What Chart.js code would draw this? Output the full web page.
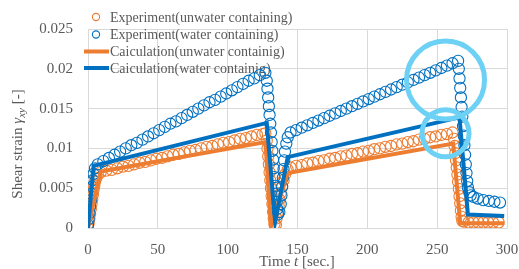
<!DOCTYPE html>
<html lang="en">
<head>
    <meta charset="UTF-8">
    <title>Shear strain - time</title>
    <script src="https://cdn.jsdelivr.net/npm/chart.js"></script>
    <style>
        body { margin: 0; background: #fff; }
        canvas { display: block; }
    </style>
</head>
<body>

    <canvas id="strainChart" width="519" height="269"></canvas>

    <script>
        // Experiment (unwater containing) - time [sec.] / shear strain [-]
        const expUnwaterT = [
            0, 0.5, 1, 1.5, 2, 2.5, 3, 3.5, 4, 4.5, 5, 6, 7,
            9, 13, 17, 21, 25, 29, 33, 37, 41, 45, 49, 53, 57, 61, 65, 69, 73, 77, 81, 85, 89, 93, 97, 101, 105, 109, 113, 117, 121, 125, 127,
            128, 128.5, 129, 129.5, 130, 130.5, 131, 131.5, 132, 132.5, 133, 133.5,
            134.5, 135, 136, 136.5, 137, 138, 139, 140, 141, 143,
            145, 149, 153, 157, 161, 165, 169, 173, 177, 181, 185, 189, 193, 197, 201, 205, 209, 213, 217, 221, 225, 229, 233, 237, 241, 245, 249, 253, 257, 261,
            262, 262.5, 263, 263.5, 264, 264.5, 265, 265.5, 266, 266.5, 267, 267.5, 268,
            269, 272.5, 276, 279.5, 283, 286.5, 290, 294
        ];
        const expUnwaterY = [
            0, 0.0006, 0.0012, 0.0018, 0.0024, 0.0030, 0.0036, 0.0042, 0.0048, 0.0053, 0.0058, 0.0063, 0.0067,
            0.0070, 0.0072, 0.0073, 0.0075, 0.0077, 0.0078, 0.0080, 0.0082, 0.0083, 0.0085, 0.0087, 0.0088, 0.0090, 0.0092, 0.0093, 0.0095, 0.0097, 0.0098, 0.0100, 0.0102, 0.0103, 0.0105, 0.0107, 0.0108, 0.0110, 0.0112, 0.0113, 0.0115, 0.0117, 0.0118, 0.0119,
            0.0110, 0.0100, 0.0090, 0.0080, 0.0070, 0.0060, 0.0050, 0.0040, 0.0030, 0.0020, 0.0012, 0.0005,
            0.0004, 0.0012, 0.0020, 0.0028, 0.0036, 0.0044, 0.0052, 0.0060, 0.0067, 0.0073,
            0.0076, 0.0078, 0.0079, 0.0081, 0.0082, 0.0084, 0.0085, 0.0087, 0.0088, 0.0090, 0.0091, 0.0093, 0.0094, 0.0096, 0.0097, 0.0099, 0.0100, 0.0102, 0.0103, 0.0105, 0.0106, 0.0108, 0.0109, 0.0111, 0.0112, 0.0114, 0.0115, 0.0117, 0.0118, 0.0120,
            0.0112, 0.0103, 0.0094, 0.0085, 0.0076, 0.0067, 0.0058, 0.0049, 0.0040, 0.0031, 0.0022, 0.0014, 0.0009,
            0.0008, 0.0007, 0.0007, 0.0007, 0.0007, 0.0007, 0.0007, 0.0007
        ];

        // Experiment (water containing)
        const expWaterT = [
            0, 0.5, 1, 1.5, 2, 2.5, 3, 3.5, 4, 5,
            7, 11, 15, 19, 23, 27, 31, 35, 39, 43, 47, 51, 55, 59, 63, 67, 71, 75, 79, 83, 87, 91, 95, 99, 103, 107, 111, 115, 119, 123, 127,
            128, 128.5, 129, 129.5, 130, 130.5, 131, 131.5, 132, 132.5, 133, 133.5, 134, 134.5, 135, 135.5, 136,
            137, 138, 138.5, 139, 139.5, 140, 140.5, 141, 142, 143,
            145, 149, 153, 157, 161, 165, 169, 173, 177, 181, 185, 189, 193, 197, 201, 205, 209, 213, 217, 221, 225, 229, 233, 237, 241, 245, 249, 253, 257, 261, 265,
            265.5, 266, 266.5, 267, 267.5, 268, 268.5, 269, 269.5, 270, 270.5, 271,
            271.5, 272, 273, 274, 276, 279, 283, 287, 291, 295
        ];
        const expWaterY = [
            0.0004, 0.0011, 0.0019, 0.0027, 0.0035, 0.0043, 0.0052, 0.0060, 0.0068, 0.0075,
            0.0080, 0.0084, 0.0088, 0.0092, 0.0096, 0.0100, 0.0104, 0.0107, 0.0111, 0.0115, 0.0119, 0.0123, 0.0127, 0.0131, 0.0134, 0.0138, 0.0142, 0.0146, 0.0150, 0.0154, 0.0158, 0.0161, 0.0165, 0.0169, 0.0173, 0.0177, 0.0181, 0.0185, 0.0188, 0.0192, 0.0195,
            0.0185, 0.0175, 0.0164, 0.0153, 0.0142, 0.0131, 0.0120, 0.0108, 0.0097, 0.0086, 0.0075, 0.0064, 0.0053, 0.0043, 0.0033, 0.0024, 0.0017,
            0.0020, 0.0030, 0.0041, 0.0052, 0.0063, 0.0074, 0.0085, 0.0096, 0.0106, 0.0114,
            0.0120, 0.0123, 0.0126, 0.0129, 0.0132, 0.0135, 0.0138, 0.0141, 0.0144, 0.0147, 0.0150, 0.0153, 0.0156, 0.0159, 0.0162, 0.0165, 0.0168, 0.0171, 0.0174, 0.0177, 0.0180, 0.0183, 0.0186, 0.0189, 0.0192, 0.0195, 0.0198, 0.0201, 0.0204, 0.0207, 0.0210,
            0.0200, 0.0188, 0.0176, 0.0164, 0.0152, 0.0140, 0.0128, 0.0116, 0.0104, 0.0092, 0.0080, 0.0069,
            0.0059, 0.0051, 0.0045, 0.0041, 0.0039, 0.0037, 0.0035, 0.0034, 0.0033, 0.0032
        ];

        // Calculation lines
        const calcUnwaterT = [0, 9, 127, 131, 143, 261.5, 266.5, 298];
        const calcUnwaterY = [0, 0.0071, 0.0108, 0.0002, 0.0069, 0.0106, 0.0006, 0.0006];
        const calcWaterT = [0, 4, 128, 134, 143, 266, 272, 298];
        const calcWaterY = [0, 0.0078, 0.0132, 0.0008, 0.0089, 0.0139, 0.0017, 0.0015];

        // highlight circles drawn on the figure (centres, data units)
        const highlightT = [256, 256];
        const highlightY = [0.0186, 0.0119];

        const legendLabels = [
            'Experiment(unwater containing)',
            'Experiment(water containing)',
            'Caiculation(unwater containig)',
            'Caiculation(water containig)'
        ];

        const xTicks = [0, 50, 100, 150, 200, 250, 300];
        const xTickLabels = ['0', '50', '100', '150', '200', '250', '300'];
        const yTicks = [0, 0.005, 0.01, 0.015, 0.02, 0.025];
        const yTickLabels = ['0', '0.005', '0.01', '0.015', '0.02', '0.025'];

        const ORANGE = '#ed7d31';
        const BLUE = '#0070c0';
        const CYAN = '#6cd1f5';
        const GRID = '#d9d9d9';
        const TEXT = '#595959';
        const SERIF = "'Liberation Serif', 'Times New Roman', serif";
        const HIGHLIGHT_R = [39, 23.5];

        function pairs(t, y) {
            return t.map((v, i) => ({ x: v, y: y[i] }));
        }

        // draws a row of text pieces (normal / italic / subscript) centred on x
        function drawRuns(ctx, runs, x, y) {
            let total = 0;
            runs.forEach(r => {
                ctx.font = (r.italic ? 'italic ' : '') + r.size + 'px ' + SERIF;
                r.w = ctx.measureText(r.text).width;
                total += r.w;
            });
            let cx = x - total / 2;
            runs.forEach(r => {
                ctx.font = (r.italic ? 'italic ' : '') + r.size + 'px ' + SERIF;
                ctx.fillText(r.text, cx, y + (r.dy || 0));
                cx += r.w;
            });
        }

        const decorPlugin = {
            id: 'decor',
            beforeDatasetsDraw(chart) {
                // legend, sits partly over the plot area
                const ctx = chart.ctx;
                const rows = [17, 34.5, 51.5, 68];
                const colors = [ORANGE, BLUE, ORANGE, BLUE];
                ctx.save();
                ctx.textBaseline = 'middle';
                ctx.textAlign = 'left';
                ctx.font = '14px ' + SERIF;
                rows.forEach((y, i) => {
                    ctx.strokeStyle = colors[i];
                    if (i < 2) {
                        ctx.lineWidth = 1.1;
                        ctx.beginPath();
                        ctx.arc(96, y, 3.6, 0, Math.PI * 2);
                        ctx.stroke();
                    } else {
                        ctx.lineWidth = 4;
                        ctx.beginPath();
                        ctx.moveTo(84, y);
                        ctx.lineTo(109, y);
                        ctx.stroke();
                    }
                    ctx.fillStyle = TEXT;
                    ctx.fillText(legendLabels[i], 110, y + 1);
                });
                ctx.restore();
            },
            afterDatasetsDraw(chart) {
                // the two highlight rings, placed through the chart scales
                const ctx = chart.ctx;
                const xs = chart.scales.x, ys = chart.scales.y;
                ctx.save();
                ctx.strokeStyle = CYAN;
                ctx.lineWidth = 5;
                highlightT.forEach((t, i) => {
                    ctx.beginPath();
                    ctx.arc(xs.getPixelForValue(t), ys.getPixelForValue(highlightY[i]), HIGHLIGHT_R[i], 0, Math.PI * 2);
                    ctx.stroke();
                });
                ctx.restore();
            },
            afterDraw(chart) {
                const ctx = chart.ctx;
                ctx.save();
                ctx.fillStyle = TEXT;
                ctx.textBaseline = 'alphabetic';
                ctx.textAlign = 'left';

                drawRuns(ctx, [
                    { text: 'Time ', size: 15 },
                    { text: 't', size: 15, italic: true },
                    { text: ' [sec.]', size: 15 }
                ], 297, 266);

                ctx.translate(22, 144);
                ctx.rotate(-Math.PI / 2);
                drawRuns(ctx, [
                    { text: 'Shear strain ', size: 15 },
                    { text: 'γ', size: 15, italic: true },
                    { text: 'xy', size: 11, italic: true, dy: 3 },
                    { text: ' [-]', size: 15 }
                ], 0, 0);
                ctx.restore();
            }
        };

        const ctx = document.getElementById('strainChart').getContext('2d');
        const strainChart = new Chart(ctx, {
            type: 'scatter',
            data: {
                datasets: [
                    {
                        label: legendLabels[3],
                        data: pairs(calcWaterT, calcWaterY),
                        showLine: true,
                        borderColor: BLUE,
                        borderWidth: 4,
                        pointRadius: 0,
                        order: 1
                    },
                    {
                        label: legendLabels[2],
                        data: pairs(calcUnwaterT, calcUnwaterY),
                        showLine: true,
                        borderColor: ORANGE,
                        borderWidth: 4,
                        pointRadius: 0,
                        order: 2
                    },
                    {
                        label: legendLabels[1],
                        data: pairs(expWaterT, expWaterY),
                        borderColor: BLUE,
                        backgroundColor: 'rgba(0,0,0,0)',
                        pointRadius: 5.6,
                        pointBorderWidth: 1.1,
                        order: 3
                    },
                    {
                        label: legendLabels[0],
                        data: pairs(expUnwaterT, expUnwaterY),
                        borderColor: ORANGE,
                        backgroundColor: 'rgba(0,0,0,0)',
                        pointRadius: 5.6,
                        pointBorderWidth: 1.1,
                        order: 4
                    }
                ]
            },
            options: {
                responsive: false,
                animation: false,
                events: [],
                layout: {
                    padding: { left: 0, top: 29, right: 12, bottom: 0 }
                },
                plugins: {
                    legend: { display: false },
                    tooltip: { enabled: false }
                },
                scales: {
                    x: {
                        type: 'linear',
                        min: 0,
                        max: 300,
                        afterBuildTicks: s => { s.ticks = xTicks.map(v => ({ value: v })); },
                        afterFit: s => {
                            s.height = 41;
                            s.paddingLeft = 0;
                            s.paddingRight = 0;
                        },
                        grid: { color: GRID, drawTicks: false },
                        border: { color: GRID },
                        ticks: {
                            padding: 13,
                            color: TEXT,
                            font: { family: SERIF, size: 15 },
                            callback: (v, i) => xTickLabels[i]
                        }
                    },
                    y: {
                        type: 'linear',
                        min: 0,
                        max: 0.025,
                        afterBuildTicks: s => { s.ticks = yTicks.map(v => ({ value: v })); },
                        afterFit: s => { s.width = 88; },
                        grid: { color: GRID, drawTicks: false },
                        border: { color: GRID },
                        ticks: {
                            padding: 15,
                            color: TEXT,
                            font: { family: SERIF, size: 15 },
                            callback: (v, i) => yTickLabels[i]
                        }
                    }
                }
            },
            plugins: [decorPlugin]
        });
    </script>

</body>
</html>
